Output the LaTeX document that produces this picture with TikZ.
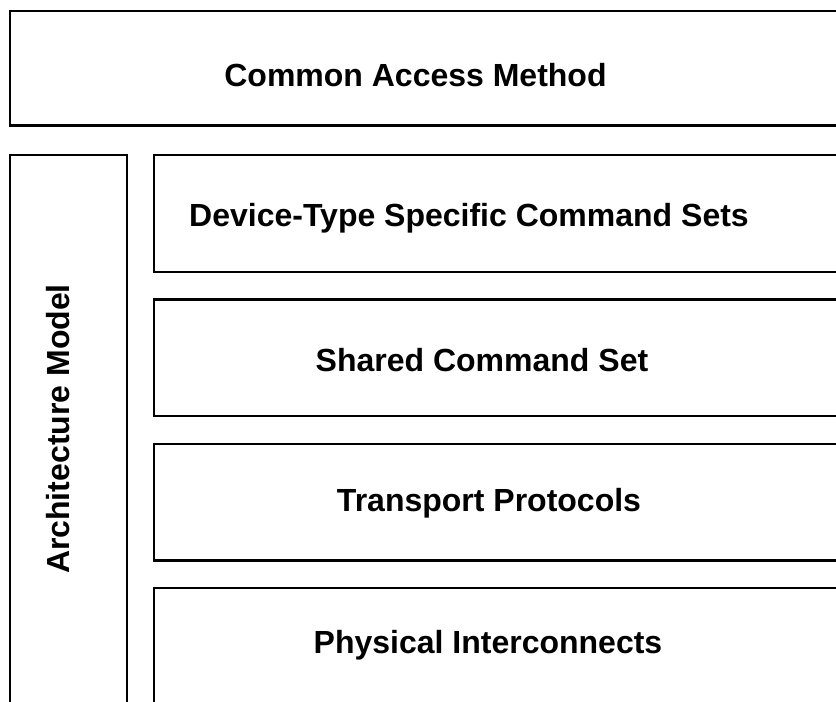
\documentclass[tikz,border=0pt]{standalone}
\usepackage{fontspec}
\setmainfont{Liberation Sans}
\begin{document}
\begin{tikzpicture}[x=1pt,y=-1pt,
  layerbox/.style={draw=black,line width=2.6pt,fill=white},
  lbl/.style={font=\fontsize{32}{38}\selectfont\bfseries,inner sep=0pt,anchor=center}]
\useasboundingbox (0,0) rectangle (836,702);
\clip (0,0) rectangle (836,702);
\fill[white] (0,0) rectangle (836,702);
\draw[layerbox] (10,11) rectangle (850,125.5);
\draw[layerbox] (10,155) rectangle (127,720);
\draw[layerbox] (154,155) rectangle (850,272);
\draw[layerbox] (154,299.5) rectangle (850,416);
\draw[layerbox] (154,444) rectangle (850,560.5);
\draw[layerbox] (154,588) rectangle (850,720);
\node[lbl] (cam) at (415.5,75) {Common Access Method};
\node[lbl] (dtc) at (469,218) {Device-Type Specific Command Sets};
\node[lbl] (scs) at (482,360) {Shared Command Set};
\node[lbl] (tp) at (489,503) {Transport Protocols};
\node[lbl] (pi) at (488,645) {Physical Interconnects};
\node[lbl,rotate=90] (am) at (58,429) {Architecture Model};
\end{tikzpicture}
\end{document}
